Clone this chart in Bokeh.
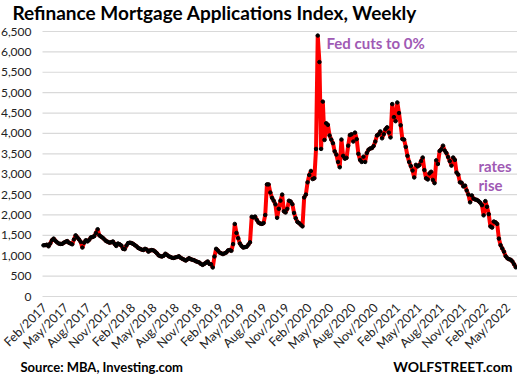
import math
import pandas as pd
from bokeh.plotting import figure
from bokeh.models import (Range1d, Label, FixedTicker, DatetimeTickFormatter,
                          NumeralTickFormatter, ColumnDataSource)
from bokeh.embed import file_html
from bokeh.resources import INLINE

# ---------------- data (weekly MBA refinance index) -------------
week_start = "2017-01-27"
refi = [
    1255, 1260, 1270, 1230, 1300, 1380, 1420, 1370, 1330, 1300,
    1290, 1290, 1320, 1340, 1360, 1320, 1300, 1280, 1400, 1500,
    1450, 1400, 1340, 1200, 1320, 1380, 1350, 1390, 1450, 1460,
    1480, 1560, 1650, 1500, 1470, 1440, 1400, 1360, 1340, 1320,
    1330, 1350, 1290, 1240, 1300, 1280, 1250, 1170, 1160, 1250,
    1310, 1320, 1310, 1290, 1260, 1230, 1190, 1170, 1150, 1140,
    1170, 1150, 1100, 1130, 1140, 1130, 1100, 1060, 1010, 990,
    980, 1000, 1050, 1020, 985, 970, 950, 945, 960, 970,
    985, 950, 925, 905, 880, 910, 940, 915, 900, 890,
    865, 850, 835, 800, 775,
    800, 830, 860, 800, 790, 712, 980, 1170, 1130, 1080,
    1060, 1040, 1060, 1080, 1130, 1140, 1120, 1285, 1780, 1560,
    1430, 1300, 1240, 1200, 1210, 1220, 1270, 1330, 1955, 1940,
    1960, 1880, 1815, 1790, 1780, 1800, 2000, 2750, 2750, 2550,
    2420, 2350, 2260, 1930, 2150, 2350, 2500, 2090, 2060, 2150,
    2350, 2330, 2265, 2050, 1920, 1830, 1800, 1760, 1720, 2430,
    2500, 2800, 2980, 3080, 2880, 2900, 3620, 6400, 5750, 3620,
    4780, 3840, 4250, 4210, 3950, 3850, 3760, 3560, 3480, 3300,
    3170, 3850, 3450, 3380, 3400, 3700, 3960, 3980, 3800, 4020,
    3860, 3500, 3350, 3300, 3430, 3300, 3520, 3600, 3630, 3640,
    3690, 3800, 3950, 3980, 4050,
    3880, 3980, 4100, 4150, 4020, 3900, 4720, 4400, 4300, 4760,
    4500, 4200, 3860, 3850, 3670, 3450, 3300, 3200, 3090, 2920,
    3230, 3190, 3220, 3320, 3410, 3100, 2900, 2870, 3020, 3060,
    2860, 2780, 3340, 3250, 3570, 3610, 3700, 3580, 3520, 3420,
    3320, 3210, 3410, 3350, 3040, 2990, 2800, 2790, 2700, 2720,
    2600, 2500, 2310, 2480, 2400, 2380, 2370, 2340, 2300, 2240,
    1990, 2340, 2200, 2020, 1720, 1690, 1840, 1820, 1780, 1420,
    1260, 1180, 1100, 990, 940, 915, 900, 860, 790, 715,
]
dates = pd.date_range(week_start, periods=len(refi), freq="7D")
tick_months = pd.date_range("2017-02-01", "2022-05-01", freq="3MS")
y_ticks = [0, 500, 1000, 1500, 2000, 2500, 3000, 3500, 4000, 4500, 5000, 5500, 6000, 6500]

title_text = "Refinance Mortgage Applications Index, Weekly"
note_fed = "Fed cuts to 0%"
note_rates = ["rates", "rise"]
source_text = "Source: MBA, Investing.com"
brand_text = "WOLFSTREET.com"

# ---------------- layout ----------------
# The frame covers the whole canvas; axes are pinned at fixed locations so that
# the title / notes / footer can live inside the frame as Labels.
W, H = 517, 376
PL, PR = 42, 517          # plot-area left/right (page px)
PT, PB = 31, 296          # plot-area top/bottom (page px)
X0 = pd.Timestamp("2017-01-23")   # date at page x = PL
X1 = pd.Timestamp("2022-06-10")   # date at page x = PR
x0ms, x1ms = X0.value / 1e6, X1.value / 1e6
YMAX = 6500

def xd(px):
    return x0ms + (px - PL) / (PR - PL) * (x1ms - x0ms)

def yd(py):
    return (PB - py) / (PB - PT) * YMAX

FONT = "Lato"
TXT = "#222222"
PURPLE = "#A05AB4"

p = figure(width=W, height=H, output_backend="svg", toolbar_location=None, title=None,
           x_axis_type="datetime",
           x_range=Range1d(xd(0), xd(W)), y_range=Range1d(yd(H), yd(0)),
           min_border=0, min_border_left=0, min_border_right=0,
           min_border_top=0, min_border_bottom=0)
p.outline_line_color = None
p.background_fill_color = "white"
p.border_fill_color = "white"
p.grid.visible = False

# horizontal gridlines across the plot area only
p.segment(x0=[xd(PL)] * len(y_ticks), x1=[xd(PR)] * len(y_ticks), y0=y_ticks, y1=y_ticks,
          line_color="#D9D9D9", line_width=1.2)

p.yaxis.fixed_location = xd(PL)
p.yaxis.ticker = FixedTicker(ticks=y_ticks)
p.yaxis.formatter = NumeralTickFormatter(format="0,0")
p.yaxis.axis_line_color = None
p.yaxis.major_tick_line_color = None
p.yaxis.minor_tick_line_color = None
p.yaxis.major_tick_out = 0
p.yaxis.major_tick_in = 0
p.yaxis.major_label_standoff = 11
p.yaxis.major_label_text_font = FONT
p.yaxis.major_label_text_font_size = "12px"
p.yaxis.major_label_text_color = TXT

p.xaxis.fixed_location = 0
p.xaxis.ticker = FixedTicker(ticks=[t.value / 1e6 for t in tick_months])
fmt = "%b/%Y"
p.xaxis.formatter = DatetimeTickFormatter(days=fmt, months=fmt, years=fmt, hours=fmt,
                                          minutes=fmt, seconds=fmt, milliseconds=fmt,
                                          microseconds=fmt, hourmin=fmt, minsec=fmt)
p.xaxis.axis_line_color = None
p.xaxis.major_tick_line_color = None
p.xaxis.minor_tick_line_color = None
p.xaxis.major_tick_out = 0
p.xaxis.major_tick_in = 0
p.xaxis.major_label_orientation = math.pi / 4
p.xaxis.major_label_standoff = 9
p.xaxis.major_label_text_font = FONT
p.xaxis.major_label_text_font_size = "12.5px"
p.xaxis.major_label_text_color = TXT

src = ColumnDataSource(dict(date=dates, refi=refi))
p.line("date", "refi", source=src, line_color="#FF0000", line_width=4)
p.scatter("date", "refi", source=src, size=3.5, fill_color="black", line_color="black")

def add_label(text, px, py, size, color="black", align="left"):
    p.add_layout(Label(x=xd(px), y=yd(py), text=text, text_font=FONT,
                       text_font_size=size, text_color=color, text_align=align,
                       text_baseline="middle", text_font_style="bold"))

add_label(title_text, 12, 12, "19px")
add_label(note_fed, 326, 42, "15px", PURPLE)
add_label(note_rates[0], 478, 165, "15px", PURPLE)
add_label(note_rates[1], 478, 184, "15px", PURPLE)
add_label(source_text, 20, 366, "13px")
add_label(brand_text, 512, 366, "14px", align="right")

open("out.html", "w").write(file_html(p, INLINE))
